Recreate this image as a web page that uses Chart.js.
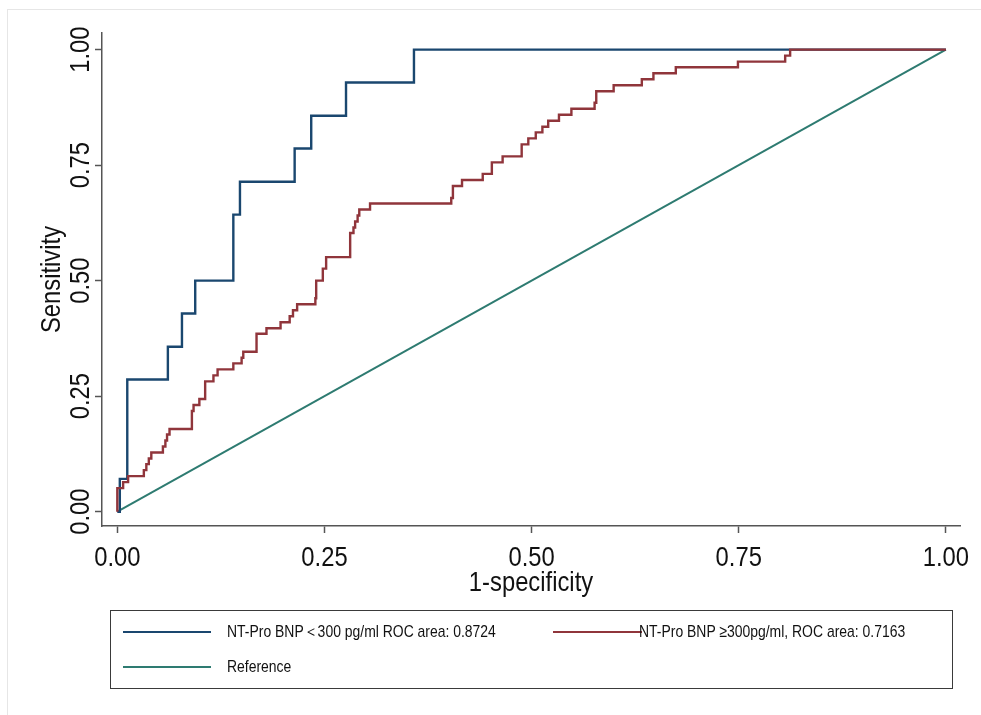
<!DOCTYPE html>
<html>
<head>
<meta charset="utf-8">
<script src="https://cdn.jsdelivr.net/npm/chart.js@4.4.1/dist/chart.umd.min.js"></script>
<style>
html,body{margin:0;padding:0;background:#fff;}
#wrap{position:relative;width:981px;height:715px;overflow:hidden;background:#fff;}
#frame{position:absolute;left:7px;top:9px;right:0;bottom:0;border-top:1px solid #e6e6e6;border-left:1px solid #e6e6e6;}
#chart{position:absolute;left:0;top:0;}
#legend{position:absolute;left:110px;top:610px;width:843px;height:79px;box-sizing:border-box;border:1px solid #3a3a3a;
  font-family:"Liberation Sans",Arial,sans-serif;font-size:17px;color:#111;}
.item{position:absolute;height:20px;}
.sw{position:absolute;top:9px;height:2px;}
.tx{position:absolute;top:0;line-height:20px;white-space:nowrap;transform:scaleX(0.82);transform-origin:0 50%;}
#it0{left:12px;top:11px;} #it0 .sw{left:0;width:88px;} #it0 .tx{left:104px;}
#it1{left:442px;top:11px;} #it1 .sw{left:0;width:89px;} #it1 .tx{left:86px;}
#it2{left:12px;top:46px;} #it2 .sw{left:0;width:88px;} #it2 .tx{left:104px;}
</style>
</head>
<body>
<div id="wrap">
  <div id="frame"></div>
  <canvas id="chart" width="981" height="715"></canvas>
  <div id="legend"></div>
</div>
<script>
// ---- data ----
const xTickValues = [0, 0.25, 0.5, 0.75, 1];
const xTickLabels = ['0.00', '0.25', '0.50', '0.75', '1.00'];
const yTickValues = [0, 0.25, 0.5, 0.75, 1];
const yTickLabels = ['0.00', '0.25', '0.50', '0.75', '1.00'];

const seriesLabels = [
  'NT-Pro BNP\uFF1C300 pg/ml ROC area: 0.8724',
  'NT-Pro BNP \u2265300pg/ml, ROC area: 0.7163',
  'Reference'
];

// NT-Pro BNP < 300 pg/ml (1-specificity, sensitivity)
const lowFpr = [0, 0.003, 0.012, 0.061, 0.078, 0.094, 0.140, 0.148, 0.214, 0.234, 0.276, 0.358, 1];
const lowTpr = [0, 0.071, 0.286, 0.357, 0.429, 0.500, 0.643, 0.714, 0.786, 0.857, 0.929, 1.000, 1];

// NT-Pro BNP >= 300 pg/ml
const highFpr = [0, 0, 0.007, 0.013, 0.032, 0.035, 0.038, 0.041, 0.055, 0.058, 0.060, 0.063,
  0.090, 0.092, 0.099, 0.106, 0.116, 0.121, 0.140, 0.150, 0.152, 0.168, 0.180, 0.197, 0.208,
  0.212, 0.217, 0.239, 0.240, 0.248, 0.252, 0.281, 0.285, 0.287, 0.290, 0.292, 0.305, 0.403,
  0.405, 0.416, 0.441, 0.452, 0.465, 0.488, 0.496, 0.505, 0.513, 0.520, 0.533, 0.548, 0.576,
  0.578, 0.599, 0.633, 0.647, 0.674, 0.749, 0.806, 0.812, 1];
const highTpr = [0, 0.051, 0.064, 0.077, 0.090, 0.103, 0.115, 0.128, 0.141, 0.154, 0.167, 0.179,
  0.218, 0.231, 0.244, 0.282, 0.295, 0.308, 0.321, 0.333, 0.346, 0.385, 0.397, 0.410, 0.423,
  0.436, 0.449, 0.462, 0.500, 0.526, 0.551, 0.603, 0.615, 0.628, 0.641, 0.654, 0.667, 0.679,
  0.705, 0.718, 0.731, 0.756, 0.769, 0.795, 0.808, 0.821, 0.833, 0.846, 0.859, 0.872, 0.885,
  0.910, 0.923, 0.936, 0.949, 0.962, 0.974, 0.987, 1.000, 1];

// Reference diagonal
const refFpr = [0, 1];
const refTpr = [0, 1];

const seriesColors = ['#1a476f', '#90353b', '#2e7b71'];

// ---- build chart ----
const FONT = '"Liberation Sans",Arial,sans-serif';
const TEXT_SX = 0.85;   // condensed look of the reference lettering
const zip = (xs, ys) => xs.map((x, i) => ({x: x, y: ys[i]}));
const AXIS = '#555555';

const canvas = document.getElementById('chart');
const c2d = canvas.getContext('2d');
const origFillText = c2d.fillText;
c2d.fillText = function (t, x, y) {
  this.save();
  this.translate(x, y);
  this.scale(TEXT_SX, 1);
  origFillText.call(this, t, 0, 0);
  this.restore();
};

const chart = new Chart(canvas, {
  type: 'line',
  data: {
    datasets: [
      {label: seriesLabels[0], data: zip(lowFpr, lowTpr), borderColor: seriesColors[0], borderWidth: 2.4,
       stepped: 'before', pointRadius: 0, fill: false, order: 1, borderJoinStyle: 'miter'},
      {label: seriesLabels[1], data: zip(highFpr, highTpr), borderColor: seriesColors[1], borderWidth: 2.4,
       stepped: 'before', pointRadius: 0, fill: false, order: 0, borderJoinStyle: 'miter'},
      {label: seriesLabels[2], data: zip(refFpr, refTpr), borderColor: seriesColors[2], borderWidth: 2,
       pointRadius: 0, fill: false, order: 2}
    ]
  },
  options: {
    responsive: false,
    animation: false,
    devicePixelRatio: 1,
    layout: {padding: {left: 0, top: 33, right: 21, bottom: 99}},
    plugins: {legend: {display: false}, tooltip: {enabled: false}},
    scales: {
      x: {
        type: 'linear', position: 'bottom', min: -0.0185, max: 1.017,
        afterFit: s => { s.height = 90; s.paddingLeft = 0; s.paddingRight = 0; },
        afterBuildTicks: s => { s.ticks = xTickValues.map(v => ({value: v})); },
        grid: {drawOnChartArea: false, drawTicks: true, tickLength: 7, tickWidth: 1.5, tickColor: AXIS},
        border: {display: true, color: AXIS, width: 1.5},
        ticks: {
          callback: v => xTickLabels[xTickValues.indexOf(v)],
          font: {family: FONT, size: 28, lineHeight: 1}, color: '#111',
          padding: 11.5, maxRotation: 0, minRotation: 0, autoSkip: false
        },
        title: {display: true, text: '1-specificity', color: '#111',
          font: {family: FONT, size: 28, lineHeight: 1}, padding: {top: 0, bottom: 18.5}}
      },
      y: {
        type: 'linear', position: 'left', min: -0.031, max: 1.036,
        afterFit: s => { s.width = 102; s.paddingTop = 0; s.paddingBottom = 0; },
        afterBuildTicks: s => { s.ticks = yTickValues.map(v => ({value: v})); },
        grid: {drawOnChartArea: false, drawTicks: true, tickLength: 7, tickWidth: 1.5, tickColor: AXIS},
        border: {display: true, color: AXIS, width: 1.5},
        ticks: {
          callback: v => yTickLabels[yTickValues.indexOf(v)],
          font: {family: FONT, size: 28, lineHeight: 1}, color: '#111',
          padding: -14, minRotation: 90, maxRotation: 90, crossAlign: 'center', autoSkip: false
        },
        title: {display: true, text: 'Sensitivity', color: '#111',
          font: {family: FONT, size: 28, lineHeight: 1}, padding: {top: 38.5, bottom: 0}}
      }
    }
  }
});

// ---- HTML legend built from the datasets ----
const leg = document.getElementById('legend');
chart.data.datasets.forEach((ds, i) => {
  const it = document.createElement('div');
  it.className = 'item'; it.id = 'it' + i;
  const sw = document.createElement('div');
  sw.className = 'sw'; sw.style.background = ds.borderColor;
  const tx = document.createElement('span');
  tx.className = 'tx'; tx.textContent = ds.label;
  it.appendChild(sw); it.appendChild(tx);
  leg.appendChild(it);
});
</script>
</body>
</html>
